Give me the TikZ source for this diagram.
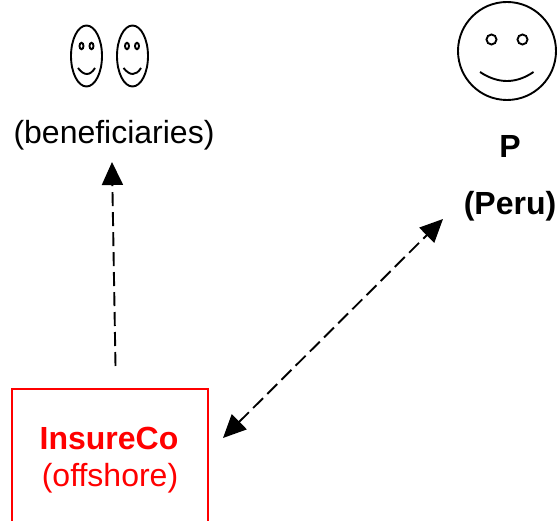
\documentclass[tikz,border=0pt]{standalone}
\usepackage{fontspec}
\setmainfont{Liberation Sans}
\usetikzlibrary{arrows.meta}
\tikzset{
 face/.style={draw=black,line width=1.9pt,fill=white},
 eye/.style={draw=black,line width=1.9pt},
 dashconn/.style={draw=black,line width=1.9pt,dash pattern=on 14pt off 6pt},
 tiphead/.style={-{Triangle[length=23pt,width=21pt]}},
 bothhead/.style={{Triangle[length=23pt,width=21pt]}-{Triangle[length=23pt,width=21pt]}},
 lbl/.style={font=\fontsize{32}{32}\selectfont,anchor=center,inner sep=0pt},
 boldlbl/.style={lbl,font=\fontsize{32}{32}\selectfont\bfseries},
}
\begin{document}
\begin{tikzpicture}[x=1pt,y=-1pt]
\useasboundingbox (0,0) rectangle (560,521);
\clip (0,0) rectangle (560,521);
% small faces
\draw[face] (86.5,56) ellipse [x radius=15.5,y radius=30.5];
\draw[eye] (81.5,46) ellipse [x radius=2,y radius=3.2];
\draw[eye] (91.5,46) ellipse [x radius=2,y radius=3.2];
\draw[face,fill=none] (78,68) .. controls (84,76) and (90,76) .. (95,68);
\draw[face] (132.5,56) ellipse [x radius=15.5,y radius=30.5];
\draw[eye] (127,46) ellipse [x radius=2,y radius=3.2];
\draw[eye] (137,46) ellipse [x radius=2,y radius=3.2];
\draw[face,fill=none] (123.5,68) .. controls (130,76) and (136,76) .. (141,68);
% large face
\draw[face] (507,51) circle [radius=49];
\draw[eye] (491.5,39.5) circle [radius=5];
\draw[eye] (522.5,39.5) circle [radius=5];
\draw[face,fill=none] (480,72) .. controls (498,84) and (516,84) .. (533.5,72);
% labels
\node[lbl] (ben) at (114,135) {(beneficiaries)};
\node[boldlbl] (p) at (510,146) {P};
\node[boldlbl] (peru) at (510,206) {(Peru)};
% box
\node[draw=red,line width=2pt,minimum width=196pt,minimum height=170pt,anchor=north west,inner sep=0pt] (box) at (11,388) {};
\node[boldlbl,text=red] (ins) at (109,438) {InsureCo};
\node[lbl,text=red] (off) at (110,478) {(offshore)};
% connectors
\coordinate (a1) at (115.5,366);
\coordinate (a2) at (112,162);
\coordinate (b1) at (223,438);
\coordinate (b2) at (443,219);
\draw[dashconn,tiphead] (a1) -- (a2);
\draw[dashconn,bothhead] (b1) -- (b2);
\end{tikzpicture}
\end{document}
